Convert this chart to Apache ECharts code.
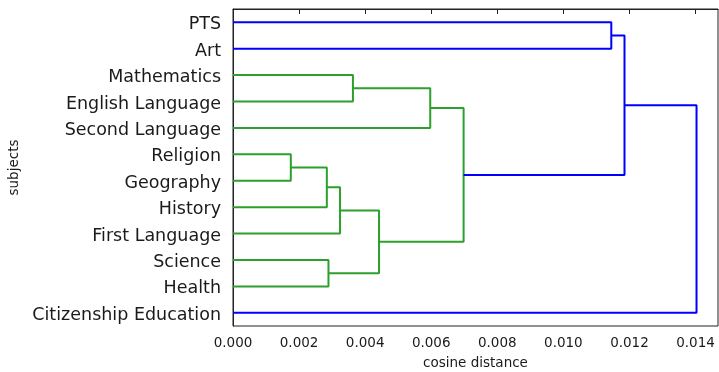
<!DOCTYPE html>
<html>
<head>
<meta charset="utf-8">
<script src="https://cdn.jsdelivr.net/npm/echarts@6/dist/echarts.min.js"></script>
<style>
html,body{margin:0;padding:0;background:#fff;}
#chart{width:719px;height:372px;}
</style>
</head>
<body>
<div id="chart"></div>
<script>
// Leaves, top to bottom
const subjects = ['PTS', 'Art', 'Mathematics', 'English Language', 'Second Language', 'Religion',
  'Geography', 'History', 'First Language', 'Science', 'Health', 'Citizenship Education'];
// Merges: ids 0..11 are leaves, merge k creates cluster id 12+k
const mergeLeft = [5, 12, 2, 9, 13, 16, 14, 18, 0, 20, 21];
const mergeRight = [6, 7, 3, 10, 8, 15, 4, 17, 1, 19, 11];
const mergeDistance = [0.00175, 0.00284, 0.00363, 0.00289, 0.00324, 0.00442, 0.00597, 0.00698, 0.01145, 0.01185, 0.01403];
// x-axis tick labels
const xTicks = [0, 0.002, 0.004, 0.006, 0.008, 0.010, 0.012, 0.014];
const xMax = 0.01468;

const n = subjects.length;
const colorThreshold = 0.7 * Math.max(...mergeDistance);
const clusterColor = '#2ca02c';
const aboveColor = '#0000ff';

// position (value axis units) and height of every node
const nodeY = [], nodeD = [];
for (let i = 0; i < n; i++) { nodeY.push(5 + 10 * i); nodeD.push(0); }
const series = [];
for (let k = 0; k < mergeDistance.length; k++) {
  const a = mergeLeft[k], b = mergeRight[k], d = mergeDistance[k];
  const ya = nodeY[a], yb = nodeY[b];
  nodeY.push((ya + yb) / 2); nodeD.push(d);
  series.push({
    type: 'line',
    xAxisIndex: 0,
    yAxisIndex: 1,
    data: [[nodeD[a], ya], [d, ya], [d, yb], [nodeD[b], yb]],
    symbol: 'none',
    silent: true,
    lineStyle: { width: 2, color: d < colorThreshold ? clusterColor : aboveColor },
    z: 3
  });
}

const chart = echarts.init(document.getElementById('chart'), null, { renderer: 'canvas' });
chart.setOption({
  animation: false,
  backgroundColor: '#fff',
  textStyle: { fontFamily: 'DejaVu Sans' },
  grid: { left: 233, right: 1, top: 9, bottom: 46, show: true, borderColor: '#222', borderWidth: 1,
    backgroundColor: 'transparent', containLabel: false, outerBoundsMode: 'none' },
  xAxis: {
    type: 'value',
    min: 0,
    max: xMax,
    name: 'cosine distance',
    nameLocation: 'middle',
    nameGap: 30,
    nameTextStyle: { fontSize: 13.5, color: '#1a1a1a', fontFamily: 'DejaVu Sans' },
    axisLine: { show: true, lineStyle: { color: '#222', width: 1 } },
    axisTick: { show: true, length: 5, lineStyle: { color: '#222' }, customValues: xTicks },
    axisLabel: { customValues: xTicks, fontSize: 13.5, color: '#1a1a1a', margin: 10, fontFamily: 'DejaVu Sans',
      formatter: v => v.toFixed(3) },
    splitLine: { show: false }
  },
  yAxis: [{
    type: 'category',
    data: subjects,
    inverse: true,
    boundaryGap: true,
    name: 'subjects',
    nameLocation: 'middle',
    nameGap: 206,
    nameRotate: 90,
    nameTextStyle: { fontSize: 13.5, color: '#1a1a1a', fontFamily: 'DejaVu Sans' },
    axisLine: { show: true, lineStyle: { color: '#222', width: 1 } },
    axisTick: { show: false },
    axisLabel: { fontSize: 17.5, color: '#1a1a1a', margin: 12, fontFamily: 'DejaVu Sans',
      verticalAlign: 'top', lineHeight: 5 },
    splitLine: { show: false }
  }, {
    type: 'value',
    min: 0,
    max: 10 * n,
    inverse: true,
    show: false,
    splitLine: { show: false }
  }],
  series: series
});
</script>
</body>
</html>
